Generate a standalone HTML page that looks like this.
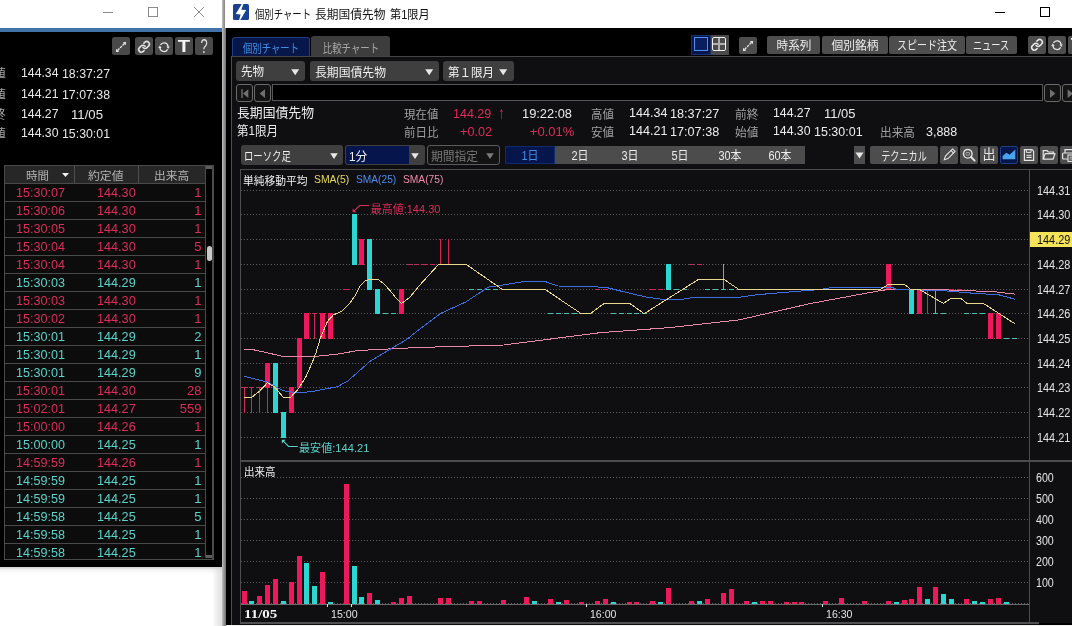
<!DOCTYPE html><html lang="ja"><head><meta charset="utf-8"><title>個別チャート 長期国債先物 第1限月</title><style>
html,body{margin:0;padding:0}
body{width:1072px;height:626px;overflow:hidden;position:relative;background:#fff;font-family:"Liberation Sans","Noto Sans CJK JP",sans-serif;}
#root{position:absolute;left:0;top:0;width:1072px;height:626px;overflow:hidden}
#root>div{position:absolute;box-sizing:border-box}
#root>svg{position:absolute}
.t{white-space:nowrap}
</style></head><body><div id="root">
<div style="left:0px;top:28px;width:222px;height:4px;background:#4273a8;"></div>
<div style="left:0px;top:32px;width:222px;height:535px;background:#000;"></div>
<div style="left:222px;top:0px;width:4px;height:626px;background:linear-gradient(90deg,#c4c4c4 0,#a0a0a0 35%,#707070 100%);"></div>
<div style="left:103px;top:12px;width:10px;height:1px;background:#8a8a8a;"></div>
<div style="left:148px;top:7px;width:10px;height:10px;background:transparent;border:1px solid #8a8a8a;"></div>
<div style="left:112px;top:37.2px;width:18px;height:17.6px;background:#494949;border-radius:2.5px;"></div>
<div style="left:135px;top:37.2px;width:18px;height:17.6px;background:#494949;border-radius:2.5px;"></div>
<div style="left:155px;top:37.2px;width:18px;height:17.6px;background:#494949;border-radius:2.5px;"></div>
<div style="left:175px;top:37.2px;width:18px;height:17.6px;background:#494949;border-radius:2.5px;"></div>
<div style="left:195px;top:37.2px;width:18px;height:17.6px;background:#494949;border-radius:2.5px;"></div>
<div style="left:4px;top:165px;width:210px;height:395px;background:#0c0c0d;border:1px solid #4a4a4a;"></div>
<div style="left:5px;top:166px;width:200px;height:17px;background:#272727;"></div>
<div style="left:205px;top:166px;width:1px;height:392px;background:#4a4a4a;"></div>
<div style="left:74px;top:166px;width:1px;height:17px;background:#505050;"></div>
<div style="left:138px;top:166px;width:1px;height:17px;background:#505050;"></div>
<div style="left:206px;top:166px;width:7px;height:392px;background:#000;"></div>
<div style="left:207px;top:246px;width:5px;height:15px;background:#c8c8c8;border-radius:2.5px;"></div>
<div style="left:206px;top:166px;width:6px;height:3px;background:#5c5c5c;"></div>
<div style="left:206px;top:555px;width:6px;height:3px;background:#5c5c5c;"></div>
<div style="left:212px;top:166px;width:2px;height:393px;background:#4a4a4a;"></div>
<div style="left:5px;top:183px;width:200px;height:1px;background:#4a4a4a;"></div>
<div style="left:5px;top:201px;width:200px;height:1px;background:#4a4a4a;"></div>
<div style="left:5px;top:219px;width:200px;height:1px;background:#4a4a4a;"></div>
<div style="left:5px;top:237px;width:200px;height:1px;background:#4a4a4a;"></div>
<div style="left:5px;top:255px;width:200px;height:1px;background:#4a4a4a;"></div>
<div style="left:5px;top:273px;width:200px;height:1px;background:#4a4a4a;"></div>
<div style="left:5px;top:291px;width:200px;height:1px;background:#4a4a4a;"></div>
<div style="left:5px;top:309px;width:200px;height:1px;background:#4a4a4a;"></div>
<div style="left:5px;top:327px;width:200px;height:1px;background:#4a4a4a;"></div>
<div style="left:5px;top:345px;width:200px;height:1px;background:#4a4a4a;"></div>
<div style="left:5px;top:363px;width:200px;height:1px;background:#4a4a4a;"></div>
<div style="left:5px;top:381px;width:200px;height:1px;background:#4a4a4a;"></div>
<div style="left:5px;top:399px;width:200px;height:1px;background:#4a4a4a;"></div>
<div style="left:5px;top:417px;width:200px;height:1px;background:#4a4a4a;"></div>
<div style="left:5px;top:435px;width:200px;height:1px;background:#4a4a4a;"></div>
<div style="left:5px;top:453px;width:200px;height:1px;background:#4a4a4a;"></div>
<div style="left:5px;top:471px;width:200px;height:1px;background:#4a4a4a;"></div>
<div style="left:5px;top:489px;width:200px;height:1px;background:#4a4a4a;"></div>
<div style="left:5px;top:507px;width:200px;height:1px;background:#4a4a4a;"></div>
<div style="left:5px;top:525px;width:200px;height:1px;background:#4a4a4a;"></div>
<div style="left:5px;top:543px;width:200px;height:1px;background:#4a4a4a;"></div>
<div style="left:0px;top:560px;width:222px;height:7px;background:#000;"></div>
<div style="left:4px;top:559px;width:210px;height:1px;background:#4a4a4a;"></div>
<div style="left:0px;top:567px;width:222px;height:59px;background:linear-gradient(180deg,#d0d0d0 0,#f4f4f4 3px,#fff 7px);"></div>
<div style="left:212px;top:567px;width:10px;height:59px;background:linear-gradient(90deg,rgba(200,200,200,0),rgba(200,200,200,0.6));"></div>
<div style="left:225px;top:0px;width:847px;height:28px;background:#fff;"></div>
<div style="left:226px;top:28px;width:846px;height:598px;background:#000;"></div>
<div style="left:995px;top:12px;width:10px;height:1px;background:#000;"></div>
<div style="left:1040px;top:7px;width:10px;height:10px;background:transparent;border:1px solid #000;"></div>
<div style="left:231px;top:56px;width:841px;height:570px;background:#0f0f11;border-left:1px solid #505050;border-top:1px solid #454545;"></div>
<div style="left:232px;top:37px;width:78px;height:19px;background:#08174a;border:1px solid #1f3f86;border-bottom:none;border-radius:3px 3px 0 0;"></div>
<div style="left:311px;top:36px;width:79px;height:20px;background:#3d3d3d;border-radius:3px 3px 0 0;"></div>
<div style="left:691px;top:35px;width:38px;height:20px;background:#4a4a4a;"></div>
<div style="left:691px;top:35px;width:19.5px;height:20px;background:#06164d;border:1px solid #16306e;"></div>
<div style="left:694px;top:37px;width:14px;height:14px;background:#0a1d5c;border:1.4px solid #4f90f0;"></div>
<div style="left:712px;top:37px;width:14px;height:14px;background:transparent;border:1.4px solid #f0f0f0;border-radius:2px;"></div>
<div style="left:718.3px;top:38px;width:1.4px;height:12px;background:#b0b0b0;"></div>
<div style="left:713px;top:43.3px;width:12px;height:1.4px;background:#b0b0b0;"></div>
<div style="left:739px;top:36.5px;width:18px;height:17.5px;background:#4d4d4d;border-radius:2px;"></div>
<div style="left:767px;top:36px;width:53px;height:18px;background:#4d4d4d;border-radius:2px;"></div>
<div style="left:822px;top:36px;width:65.5px;height:18px;background:#4d4d4d;border-radius:2px;"></div>
<div style="left:889px;top:36px;width:75.5px;height:18px;background:#4d4d4d;border-radius:2px;"></div>
<div style="left:966px;top:36px;width:50.5px;height:18px;background:#4d4d4d;border-radius:2px;"></div>
<div style="left:1028px;top:36px;width:18px;height:18px;background:#4d4d4d;border-radius:2px;"></div>
<div style="left:1048px;top:36px;width:18px;height:18px;background:#4d4d4d;border-radius:2px;"></div>
<div style="left:1068px;top:36px;width:18px;height:18px;background:#4d4d4d;border-radius:2px;"></div>
<div style="left:236px;top:61px;width:69px;height:20px;background:#3f3f3f;border-radius:3px;"></div>
<div style="left:310px;top:61px;width:129px;height:20px;background:#3f3f3f;border-radius:3px;"></div>
<div style="left:443px;top:61px;width:71px;height:20px;background:#3f3f3f;border-radius:3px;"></div>
<div style="left:236px;top:84.3px;width:17px;height:17.3px;background:#131314;border:1px solid #6a6a6a;border-radius:3px;"></div>
<div style="left:254px;top:84.3px;width:17px;height:17.3px;background:#131314;border:1px solid #6a6a6a;border-radius:3px;"></div>
<div style="left:272px;top:84.3px;width:771px;height:17px;background:#000;border:1px solid #555;"></div>
<div style="left:1044px;top:84.3px;width:17px;height:17.3px;background:#131314;border:1px solid #6a6a6a;border-radius:3px;"></div>
<div style="left:1062px;top:84.3px;width:17px;height:17.3px;background:#131314;border:1px solid #6a6a6a;border-radius:3px;"></div>
<div style="left:241px;top:145px;width:102px;height:20px;background:#3f3f3f;border-radius:3px;"></div>
<div style="left:345px;top:145px;width:80px;height:20px;background:#3f3f3f;border-radius:3px;"></div>
<div style="left:346px;top:146px;width:63px;height:18px;background:#06164d;border-radius:2px 0 0 2px;"></div>
<div style="left:427px;top:145px;width:73px;height:20px;background:#131314;border:1px solid #5c5c5c;border-radius:3px;"></div>
<div style="left:505px;top:146px;width:300px;height:18px;background:#4c4c4c;"></div>
<div style="left:505px;top:146px;width:50px;height:18px;background:#06164d;border:1px solid #0f2a70;"></div>
<div style="left:854px;top:146px;width:11px;height:18px;background:#4d4d4d;"></div>
<div style="left:870px;top:146px;width:68px;height:18px;background:#4d4d4d;border-radius:2px;"></div>
<div style="left:940px;top:146px;width:18px;height:18px;background:#4d4d4d;border-radius:2px;"></div>
<div style="left:960px;top:146px;width:18px;height:18px;background:#4d4d4d;border-radius:2px;"></div>
<div style="left:980px;top:146px;width:18px;height:18px;background:#4d4d4d;border-radius:2px;"></div>
<div style="left:1020px;top:146px;width:18px;height:18px;background:#4d4d4d;border-radius:2px;"></div>
<div style="left:1040px;top:146px;width:18px;height:18px;background:#4d4d4d;border-radius:2px;"></div>
<div style="left:1060px;top:146px;width:18px;height:18px;background:#4d4d4d;border-radius:2px;"></div>
<div style="left:1000px;top:146px;width:18px;height:18px;background:#08174a;border:1px solid #1d3e8c;border-radius:2px;"></div>
<svg style="left:193px;top:6px" width="12" height="12" viewBox="0 0 12 12"><path d="M1 1L11 11M11 1L1 11" stroke="#8a8a8a" stroke-width="1" fill="none"/></svg>
<svg style="left:62px;top:172px" width="8" height="6" viewBox="0 0 8 6"><path d="M0 1H7L3.5 5Z" fill="#f0f0f0"/></svg>
<svg style="left:233px;top:4px" width="16" height="16" viewBox="0 0 16 16"><rect width="16" height="16" rx="1.6" fill="#17428f"/><path d="M8.8 0H10.4L8.3 5.7L13.2 5.9L7.3 16H6.1L7.6 10.4L2.7 10Z" fill="#fff"/></svg>
<svg style="left:291.2px;top:68.8px" width="9" height="7" viewBox="0 0 9 7"><path d="M0.2 0.2H8.2L4.2 6.3Z" fill="#e8e8e8"/></svg>
<svg style="left:425.4px;top:68.8px" width="9" height="7" viewBox="0 0 9 7"><path d="M0.2 0.2H8.2L4.2 6.3Z" fill="#e8e8e8"/></svg>
<svg style="left:499.2px;top:68.8px" width="9" height="7" viewBox="0 0 9 7"><path d="M0.2 0.2H8.2L4.2 6.3Z" fill="#e8e8e8"/></svg>
<svg style="left:240px;top:88px" width="11" height="11" viewBox="0 0 11 11"><path d="M2 1.3V9.9" stroke="#707070" stroke-width="1.4"/><path d="M8.3 1.3V9.9L3 5.6Z" fill="#707070"/></svg>
<svg style="left:257px;top:88px" width="11" height="11" viewBox="0 0 11 11"><path d="M8 1.3V9.9L2.6 5.6Z" fill="#707070"/></svg>
<svg style="left:1047px;top:88px" width="11" height="11" viewBox="0 0 11 11"><path d="M3 1.3V9.9L8.4 5.6Z" fill="#707070"/></svg>
<svg style="left:1065px;top:88px" width="11" height="11" viewBox="0 0 11 11"><path d="M2.6 1.3V9.9L8 5.6Z" fill="#707070"/></svg>
<svg style="left:329.6px;top:153.4px" width="9" height="7" viewBox="0 0 9 7"><path d="M0.2 0.2H7.8L4 5.9Z" fill="#e8e8e8"/></svg>
<svg style="left:411.3px;top:153.4px" width="9" height="7" viewBox="0 0 9 7"><path d="M0.2 0.2H7.8L4 5.9Z" fill="#e8e8e8"/></svg>
<svg style="left:485.8px;top:153.4px" width="9" height="7" viewBox="0 0 9 7"><path d="M0.2 0.2H7.8L4 5.9Z" fill="#7a7a7a"/></svg>
<svg style="left:855px;top:152px" width="9" height="7" viewBox="0 0 9 7"><path d="M0.5 0.5H8.5L4.5 6.5Z" fill="#e6e6e6"/></svg>
<svg style="left:0;top:0" width="1072" height="626" viewBox="0 0 1072 626" shape-rendering="crispEdges">
<rect x="240" y="169" width="832" height="1" fill="#4d4d4d"/>
<rect x="240" y="169" width="1" height="455" fill="#4d4d4d"/>
<rect x="1029" y="169" width="1" height="454" fill="#4d4d4d"/>
<rect x="240" y="460" width="832" height="2" fill="#4d4d4d"/>
<rect x="240" y="622" width="799" height="2" fill="#505050"/>
<rect x="1039" y="623" width="33" height="2" fill="#000"/>
<rect x="226" y="625" width="846" height="1" fill="#f2f2f2"/>
<line x1="241" x2="1029" y1="190.5" y2="190.5" stroke="#5e5e5e" stroke-width="1" stroke-dasharray="1 2"/>
<line x1="241" x2="1029" y1="214.5" y2="214.5" stroke="#5e5e5e" stroke-width="1" stroke-dasharray="1 2"/>
<line x1="241" x2="1029" y1="239.5" y2="239.5" stroke="#5e5e5e" stroke-width="1" stroke-dasharray="1 2"/>
<line x1="241" x2="1029" y1="264.5" y2="264.5" stroke="#5e5e5e" stroke-width="1" stroke-dasharray="1 2"/>
<line x1="241" x2="1029" y1="289.5" y2="289.5" stroke="#5e5e5e" stroke-width="1" stroke-dasharray="1 2"/>
<line x1="241" x2="1029" y1="313.5" y2="313.5" stroke="#5e5e5e" stroke-width="1" stroke-dasharray="1 2"/>
<line x1="241" x2="1029" y1="338.5" y2="338.5" stroke="#5e5e5e" stroke-width="1" stroke-dasharray="1 2"/>
<line x1="241" x2="1029" y1="363.5" y2="363.5" stroke="#5e5e5e" stroke-width="1" stroke-dasharray="1 2"/>
<line x1="241" x2="1029" y1="387.5" y2="387.5" stroke="#5e5e5e" stroke-width="1" stroke-dasharray="1 2"/>
<line x1="241" x2="1029" y1="412.5" y2="412.5" stroke="#5e5e5e" stroke-width="1" stroke-dasharray="1 2"/>
<line x1="241" x2="1029" y1="437.5" y2="437.5" stroke="#5e5e5e" stroke-width="1" stroke-dasharray="1 2"/>
<line x1="241" x2="1029" y1="582.5" y2="582.5" stroke="#5e5e5e" stroke-width="1" stroke-dasharray="1 2"/>
<line x1="241" x2="1029" y1="561.5" y2="561.5" stroke="#5e5e5e" stroke-width="1" stroke-dasharray="1 2"/>
<line x1="241" x2="1029" y1="540.5" y2="540.5" stroke="#5e5e5e" stroke-width="1" stroke-dasharray="1 2"/>
<line x1="241" x2="1029" y1="519.5" y2="519.5" stroke="#5e5e5e" stroke-width="1" stroke-dasharray="1 2"/>
<line x1="241" x2="1029" y1="498.5" y2="498.5" stroke="#5e5e5e" stroke-width="1" stroke-dasharray="1 2"/>
<line x1="241" x2="1029" y1="477.5" y2="477.5" stroke="#5e5e5e" stroke-width="1" stroke-dasharray="1 2"/>
<line x1="241" x2="1029" y1="603.5" y2="603.5" stroke="#5e5e5e" stroke-width="1" stroke-dasharray="1 2"/>
<rect x="241" y="604" width="788" height="1" fill="#6a6a6a"/>
<rect x="1030" y="232" width="42" height="15" fill="#f5e45a"/>
<rect x="242" y="591" width="5" height="13" fill="#f0185c"/>
<rect x="249" y="601" width="5" height="3" fill="#2ed6d2"/>
<rect x="257" y="596" width="5" height="8" fill="#f0185c"/>
<rect x="265" y="585" width="5" height="19" fill="#f0185c"/>
<rect x="273" y="579" width="5" height="25" fill="#f0185c"/>
<rect x="281" y="601" width="5" height="3" fill="#2ed6d2"/>
<rect x="289" y="582" width="5" height="22" fill="#f0185c"/>
<rect x="297" y="556" width="5" height="48" fill="#f0185c"/>
<rect x="304" y="563" width="5" height="41" fill="#2ed6d2"/>
<rect x="312" y="586" width="5" height="18" fill="#2ed6d2"/>
<rect x="320" y="572" width="5" height="32" fill="#f0185c"/>
<rect x="328" y="602" width="5" height="2" fill="#2ed6d2"/>
<rect x="344" y="484" width="5" height="120" fill="#f0185c"/>
<rect x="352" y="566" width="5" height="38" fill="#2ed6d2"/>
<rect x="359" y="597" width="5" height="7" fill="#2ed6d2"/>
<rect x="367" y="593" width="5" height="11" fill="#f0185c"/>
<rect x="375" y="600" width="5" height="4" fill="#2ed6d2"/>
<rect x="391" y="602" width="5" height="2" fill="#f0185c"/>
<rect x="399" y="598" width="5" height="6" fill="#f0185c"/>
<rect x="407" y="596" width="5" height="8" fill="#f0185c"/>
<rect x="438" y="598" width="5" height="6" fill="#f0185c"/>
<rect x="446" y="598" width="5" height="6" fill="#f0185c"/>
<rect x="469" y="601" width="5" height="3" fill="#f0185c"/>
<rect x="477" y="601" width="5" height="3" fill="#f0185c"/>
<rect x="501" y="600" width="5" height="4" fill="#f0185c"/>
<rect x="524" y="597" width="5" height="7" fill="#f0185c"/>
<rect x="532" y="601" width="5" height="3" fill="#2ed6d2"/>
<rect x="548" y="599" width="5" height="5" fill="#f0185c"/>
<rect x="556" y="602" width="5" height="2" fill="#2ed6d2"/>
<rect x="564" y="600" width="5" height="4" fill="#f0185c"/>
<rect x="579" y="602" width="5" height="2" fill="#f0185c"/>
<rect x="595" y="601" width="5" height="3" fill="#f0185c"/>
<rect x="603" y="599" width="5" height="5" fill="#f0185c"/>
<rect x="611" y="602" width="5" height="2" fill="#2ed6d2"/>
<rect x="627" y="602" width="5" height="2" fill="#f0185c"/>
<rect x="634" y="602" width="5" height="2" fill="#f0185c"/>
<rect x="650" y="601" width="5" height="3" fill="#f0185c"/>
<rect x="658" y="602" width="5" height="2" fill="#2ed6d2"/>
<rect x="666" y="588" width="5" height="16" fill="#f0185c"/>
<rect x="689" y="601" width="5" height="3" fill="#f0185c"/>
<rect x="697" y="601" width="5" height="3" fill="#2ed6d2"/>
<rect x="705" y="599" width="5" height="5" fill="#f0185c"/>
<rect x="721" y="593" width="5" height="11" fill="#f0185c"/>
<rect x="729" y="589" width="5" height="15" fill="#f0185c"/>
<rect x="744" y="601" width="5" height="3" fill="#f0185c"/>
<rect x="752" y="602" width="5" height="2" fill="#2ed6d2"/>
<rect x="760" y="601" width="5" height="3" fill="#f0185c"/>
<rect x="768" y="601" width="5" height="3" fill="#f0185c"/>
<rect x="784" y="602" width="5" height="2" fill="#f0185c"/>
<rect x="792" y="602" width="5" height="2" fill="#f0185c"/>
<rect x="799" y="602" width="5" height="2" fill="#f0185c"/>
<rect x="823" y="601" width="5" height="3" fill="#f0185c"/>
<rect x="839" y="598" width="5" height="6" fill="#f0185c"/>
<rect x="862" y="601" width="5" height="3" fill="#f0185c"/>
<rect x="886" y="601" width="5" height="3" fill="#f0185c"/>
<rect x="894" y="602" width="5" height="2" fill="#2ed6d2"/>
<rect x="902" y="600" width="5" height="4" fill="#f0185c"/>
<rect x="909" y="599" width="5" height="5" fill="#f0185c"/>
<rect x="917" y="587" width="5" height="17" fill="#f0185c"/>
<rect x="925" y="599" width="5" height="5" fill="#2ed6d2"/>
<rect x="933" y="587" width="5" height="17" fill="#f0185c"/>
<rect x="941" y="594" width="5" height="10" fill="#2ed6d2"/>
<rect x="949" y="599" width="5" height="5" fill="#2ed6d2"/>
<rect x="964" y="599" width="5" height="5" fill="#f0185c"/>
<rect x="972" y="601" width="5" height="3" fill="#2ed6d2"/>
<rect x="980" y="602" width="5" height="2" fill="#2ed6d2"/>
<rect x="988" y="599" width="5" height="5" fill="#f0185c"/>
<rect x="996" y="598" width="5" height="6" fill="#f0185c"/>
<rect x="1004" y="602" width="5" height="2" fill="#2ed6d2"/>
<rect x="327" y="604" width="1" height="3" fill="#e0e0e0"/>
<rect x="351" y="604" width="1" height="3" fill="#e0e0e0"/>
<rect x="586" y="604" width="1" height="3" fill="#e0e0e0"/>
<rect x="822" y="604" width="1" height="3" fill="#e0e0e0"/>
<rect x="242" y="387" width="5" height="1" fill="#c8285a"/>
<rect x="244" y="387" width="1" height="26" fill="#d02858"/>
<rect x="249" y="387" width="5" height="1" fill="#c8285a"/>
<rect x="251" y="387" width="1" height="26" fill="#d02858"/>
<rect x="257" y="387" width="5" height="1" fill="#c8285a"/>
<rect x="259" y="387" width="1" height="26" fill="#d02858"/>
<rect x="267" y="387" width="1" height="26" fill="#d02858"/>
<rect x="265" y="363" width="5" height="25" fill="#f0185c"/>
<rect x="273" y="363" width="5" height="50" fill="#2ed6d2"/>
<rect x="281" y="412" width="5" height="26" fill="#2ed6d2"/>
<rect x="289" y="387" width="5" height="26" fill="#f0185c"/>
<rect x="297" y="338" width="5" height="50" fill="#f0185c"/>
<rect x="304" y="313" width="5" height="26" fill="#f0185c"/>
<rect x="312" y="313" width="5" height="1" fill="#c8285a"/>
<rect x="314" y="313" width="1" height="26" fill="#d02858"/>
<rect x="320" y="313" width="5" height="26" fill="#f0185c"/>
<rect x="328" y="313" width="5" height="26" fill="#f0185c"/>
<rect x="344" y="289" width="5" height="1" fill="#c8285a"/>
<rect x="352" y="214" width="5" height="51" fill="#2ed6d2"/>
<rect x="359" y="239" width="5" height="26" fill="#f0185c"/>
<rect x="367" y="239" width="5" height="51" fill="#2ed6d2"/>
<rect x="375" y="289" width="5" height="25" fill="#2ed6d2"/>
<rect x="383" y="313" width="5" height="1" fill="#48c0b8"/>
<rect x="391" y="313" width="5" height="1" fill="#48c0b8"/>
<rect x="399" y="289" width="5" height="25" fill="#f0185c"/>
<rect x="407" y="264" width="5" height="1" fill="#c8285a"/>
<rect x="414" y="264" width="5" height="1" fill="#c8285a"/>
<rect x="422" y="264" width="5" height="1" fill="#c8285a"/>
<rect x="430" y="264" width="5" height="1" fill="#c8285a"/>
<rect x="438" y="264" width="5" height="1" fill="#c8285a"/>
<rect x="446" y="264" width="5" height="1" fill="#c8285a"/>
<rect x="454" y="264" width="5" height="1" fill="#c8285a"/>
<rect x="462" y="264" width="5" height="1" fill="#c8285a"/>
<rect x="440" y="239" width="1" height="26" fill="#d02858"/>
<rect x="448" y="239" width="1" height="26" fill="#d02858"/>
<rect x="469" y="289" width="5" height="1" fill="#48c0b8"/>
<rect x="477" y="289" width="5" height="1" fill="#48c0b8"/>
<rect x="485" y="289" width="5" height="1" fill="#48c0b8"/>
<rect x="493" y="289" width="5" height="1" fill="#48c0b8"/>
<rect x="501" y="289" width="5" height="1" fill="#48c0b8"/>
<rect x="509" y="289" width="5" height="1" fill="#48c0b8"/>
<rect x="517" y="289" width="5" height="1" fill="#48c0b8"/>
<rect x="524" y="289" width="5" height="1" fill="#48c0b8"/>
<rect x="532" y="289" width="5" height="1" fill="#48c0b8"/>
<rect x="540" y="289" width="5" height="1" fill="#48c0b8"/>
<rect x="548" y="313" width="5" height="1" fill="#48c0b8"/>
<rect x="556" y="313" width="5" height="1" fill="#48c0b8"/>
<rect x="564" y="313" width="5" height="1" fill="#48c0b8"/>
<rect x="572" y="313" width="5" height="1" fill="#48c0b8"/>
<rect x="579" y="313" width="5" height="1" fill="#48c0b8"/>
<rect x="587" y="313" width="5" height="1" fill="#48c0b8"/>
<rect x="595" y="289" width="5" height="1" fill="#c8285a"/>
<rect x="603" y="289" width="5" height="1" fill="#c8285a"/>
<rect x="611" y="313" width="5" height="1" fill="#48c0b8"/>
<rect x="619" y="313" width="5" height="1" fill="#48c0b8"/>
<rect x="627" y="313" width="5" height="1" fill="#48c0b8"/>
<rect x="634" y="313" width="5" height="1" fill="#48c0b8"/>
<rect x="642" y="313" width="5" height="1" fill="#48c0b8"/>
<rect x="650" y="289" width="5" height="1" fill="#c8285a"/>
<rect x="658" y="289" width="5" height="1" fill="#c8285a"/>
<rect x="666" y="264" width="5" height="26" fill="#2ed6d2"/>
<rect x="674" y="289" width="5" height="1" fill="#48c0b8"/>
<rect x="682" y="289" width="5" height="1" fill="#48c0b8"/>
<rect x="689" y="264" width="5" height="1" fill="#c8285a"/>
<rect x="697" y="264" width="5" height="1" fill="#c8285a"/>
<rect x="705" y="289" width="5" height="1" fill="#48c0b8"/>
<rect x="713" y="289" width="5" height="1" fill="#48c0b8"/>
<rect x="721" y="289" width="5" height="1" fill="#48c0b8"/>
<rect x="729" y="289" width="5" height="1" fill="#48c0b8"/>
<rect x="737" y="289" width="5" height="1" fill="#48c0b8"/>
<rect x="723" y="264" width="1" height="26" fill="#3fc8c2"/>
<rect x="886" y="264" width="5" height="26" fill="#f0185c"/>
<rect x="909" y="289" width="5" height="25" fill="#2ed6d2"/>
<rect x="917" y="289" width="5" height="25" fill="#f0185c"/>
<rect x="927" y="289" width="1" height="25" fill="#d02858"/>
<rect x="935" y="289" width="1" height="25" fill="#3fc8c2"/>
<rect x="933" y="313" width="5" height="1" fill="#48c0b8"/>
<rect x="941" y="313" width="5" height="1" fill="#48c0b8"/>
<rect x="949" y="289" width="5" height="1" fill="#c8285a"/>
<rect x="957" y="289" width="5" height="1" fill="#c8285a"/>
<rect x="964" y="313" width="5" height="1" fill="#48c0b8"/>
<rect x="972" y="313" width="5" height="1" fill="#48c0b8"/>
<rect x="980" y="313" width="5" height="1" fill="#48c0b8"/>
<rect x="988" y="313" width="5" height="26" fill="#f0185c"/>
<rect x="996" y="313" width="5" height="26" fill="#f0185c"/>
<rect x="1004" y="338" width="5" height="1" fill="#48c0b8"/>
<rect x="1012" y="338" width="5" height="1" fill="#48c0b8"/>
<polyline fill="none" stroke="#e88aa6" stroke-width="1" points="244.4,349.2 250.8,349.2 267.4,352.8 282.7,356.4 314.7,356.4 337.7,354.1 358.0,350.5 418.0,347.5 503.6,345.0 600.0,332.7 669.8,327.6 739.5,319.8 810.0,303.6 881.8,290.3 892.0,289.2 943.4,289.8 994.7,291.7 1015.2,294.2"/>
<polyline fill="none" stroke="#3d6fe0" stroke-width="1" points="244.4,376.4 267.4,382.2 282.7,390.5 294.2,392.7 299.3,393.0 314.7,391.1 337.7,386.6 347.9,380.9 358.0,372.0 369.9,361.4 393.8,347.0 406.0,340.0 420.5,328.5 441.0,313.2 465.7,302.0 488.2,287.2 502.6,285.0 527.2,281.0 543.6,281.0 558.0,286.0 605.2,287.2 620.5,291.0 645.0,296.8 661.6,299.3 682.0,299.3 694.4,297.2 739.5,297.2 756.0,294.8 805.0,290.7 820.0,289.5 834.6,287.2 892.0,287.2 896.0,289.2 943.4,290.7 974.0,293.3 998.8,294.8 1015.2,299.3"/>
<polyline fill="none" stroke="#e8d98e" stroke-width="1" points="244.4,397.5 251.4,397.5 259.7,391.1 267.4,382.8 275.1,387.3 283.4,397.5 290.4,397.5 298.1,389.2 305.7,377.1 311.5,364.3 316.0,352.8 320.4,338.0 327.5,321.3 333.2,315.0 340.9,311.8 349.2,304.1 355.0,295.8 360.1,285.6 365.2,281.1 369.6,279.2 378.0,279.2 383.7,283.6 389.5,290.0 395.8,297.7 401.6,303.5 409.9,297.1 420.0,284.9 439.0,264.0 465.7,264.0 502.0,289.2 544.7,289.2 580.6,313.2 590.8,313.2 604.2,303.4 629.8,303.4 644.1,313.7 698.5,279.4 724.0,279.4 738.5,289.2 880.8,289.2 888.0,284.5 904.4,284.5 910.6,289.2 919.0,289.2 943.4,303.4 950.6,298.5 960.8,298.5 967.0,303.4 983.4,303.4 1015.2,324.0"/>
<g shape-rendering="auto"><path d="M369.2 205.5H359.6L353.6 211.4" stroke="#de2c5b" stroke-width="1.1" fill="none"/><path d="M352.6 212.2V208.4L356.4 212.2Z" fill="#de2c5b"/>
<path d="M297.8 446.5H288.6L282.8 440.7" stroke="#5ad4cb" stroke-width="1.1" fill="none"/><path d="M281.8 439.8H285.6L281.8 443.6Z" fill="#5ad4cb"/></g>
</svg>
<svg style="left:112px;top:37.5px" width="18" height="18" viewBox="0 0 18 18"><path d="M5.6 12.4L12.4 5.6" stroke="#e6e6e6" stroke-width="1.4" stroke-dasharray="2.6 1 2.4 1 2.6" fill="none"/><path d="M4 14V10.8L7.2 14ZM14 4V7.2L10.8 4Z" fill="#e6e6e6"/></svg>
<svg style="left:135px;top:37.5px" width="18" height="18" viewBox="0 0 18 18"><g transform="translate(2.6 2.4) scale(0.535)" fill="none" stroke="#e6e6e6" stroke-width="2.9" stroke-linecap="round" stroke-linejoin="round"><path d="M10 13a5 5 0 0 0 7.54.54l3-3a5 5 0 0 0-7.07-7.07l-1.72 1.71"/><path d="M14 11a5 5 0 0 0-7.54-.54l-3 3a5 5 0 0 0 7.07 7.07l1.71-1.71"/></g></svg>
<svg style="left:155px;top:37.5px" width="18" height="18" viewBox="0 0 18 18"><g fill="none" stroke="#e6e6e6" stroke-width="1.25"><path d="M5.4 7A4.1 4.1 0 0 1 13.1 8.6"/><path d="M12.6 11.4A4.1 4.1 0 0 1 4.9 9.8"/></g><path d="M11.4 8.4H14.8L13.2 11Z M3.2 10H6.6L4.8 7.4Z" fill="#e6e6e6"/></svg>
<svg style="left:739px;top:36.5px" width="18" height="18" viewBox="0 0 18 18"><path d="M5.6 12.4L12.4 5.6" stroke="#e6e6e6" stroke-width="1.4" stroke-dasharray="2.6 1 2.4 1 2.6" fill="none"/><path d="M4 14V10.8L7.2 14ZM14 4V7.2L10.8 4Z" fill="#e6e6e6"/></svg>
<svg style="left:1028px;top:36px" width="18" height="18" viewBox="0 0 18 18"><g transform="translate(2.6 2.4) scale(0.535)" fill="none" stroke="#e6e6e6" stroke-width="2.9" stroke-linecap="round" stroke-linejoin="round"><path d="M10 13a5 5 0 0 0 7.54.54l3-3a5 5 0 0 0-7.07-7.07l-1.72 1.71"/><path d="M14 11a5 5 0 0 0-7.54-.54l-3 3a5 5 0 0 0 7.07 7.07l1.71-1.71"/></g></svg>
<svg style="left:1048px;top:36px" width="18" height="18" viewBox="0 0 18 18"><g fill="none" stroke="#e6e6e6" stroke-width="1.25"><path d="M5.4 7A4.1 4.1 0 0 1 13.1 8.6"/><path d="M12.6 11.4A4.1 4.1 0 0 1 4.9 9.8"/></g><path d="M11.4 8.4H14.8L13.2 11Z M3.2 10H6.6L4.8 7.4Z" fill="#e6e6e6"/></svg>
<svg style="left:940px;top:146px" width="18" height="18" viewBox="0 0 18 18"><g transform="rotate(45 9 9)" fill="none" stroke="#e6e6e6" stroke-width="1.1"><path d="M7.2 2.2H10.8V12.2L9 15.6L7.2 12.2Z"/><path d="M7.2 4.4H10.8"/></g></svg>
<svg style="left:960px;top:146px" width="18" height="18" viewBox="0 0 18 18"><circle cx="7.8" cy="7.8" r="4.3" fill="none" stroke="#e6e6e6" stroke-width="1.4"/><path d="M11 11L14.6 14.6" stroke="#e6e6e6" stroke-width="2" stroke-linecap="round"/><rect x="6" y="6.5" width="3.6" height="2.6" rx="0.6" fill="none" stroke="#bdbdbd" stroke-width="0.8"/></svg>
<svg style="left:1000px;top:146px" width="18" height="18" viewBox="0 0 18 18"><path d="M2.6 13.2V10L6.4 6.8L9.6 8.7L15.3 3.6V13.2Z" fill="#4aa3f0"/></svg>
<svg style="left:1020px;top:146px" width="18" height="18" viewBox="0 0 18 18"><path d="M4.4 3.6H12L13.6 5.2V14.4H4.4Z" fill="none" stroke="#e6e6e6" stroke-width="1.2"/><path d="M6.4 3.8V6.4H11V3.8" fill="none" stroke="#e6e6e6" stroke-width="1"/><path d="M6.4 9.2H11.6M6.4 11.4H11.6" stroke="#e6e6e6" stroke-width="1.1"/></svg>
<svg style="left:1040px;top:146px" width="18" height="18" viewBox="0 0 18 18"><path d="M3.2 13.2V4.6H7L8.2 6H13.4V7.6" fill="none" stroke="#e6e6e6" stroke-width="1.2"/><path d="M3.2 13.2L5.2 7.6H15L13 13.2Z" fill="none" stroke="#e6e6e6" stroke-width="1.2" stroke-linejoin="round"/></svg>
<svg style="left:1060px;top:146px" width="18" height="18" viewBox="0 0 18 18"><path d="M5 7V3.6H13V7" fill="none" stroke="#e6e6e6" stroke-width="1.2"/><rect x="2.6" y="7" width="13" height="6" rx="1" fill="none" stroke="#e6e6e6" stroke-width="1.2"/><rect x="8" y="9" width="6" height="6.4" fill="#4d4d4d" stroke="#e6e6e6" stroke-width="1.1"/><path d="M9.6 11.2H12.4M9.6 13H12.4" stroke="#e6e6e6" stroke-width="0.8"/></svg>
<div class="t" id="t0i" style="top:64.60px;font-size:12px;line-height:18px;color:#a8a8a8;right:1066.2px;transform-origin:100% 50%;">高値</div>
<div class="t" id="t1i" style="top:63.00px;font-size:13px;line-height:20px;color:#e8e8e8;left:20.6px;transform-origin:0 50%;transform:scaleX(0.9430);">144.34</div>
<div class="t" id="t2i" style="top:64.00px;font-size:13px;line-height:20px;color:#e8e8e8;left:62px;transform-origin:0 50%;transform:scaleX(0.9484);">18:37:27</div>
<div class="t" id="t3i" style="top:85.60px;font-size:12px;line-height:18px;color:#a8a8a8;right:1066.2px;transform-origin:100% 50%;">安値</div>
<div class="t" id="t4i" style="top:84.00px;font-size:13px;line-height:20px;color:#e8e8e8;left:20.6px;transform-origin:0 50%;transform:scaleX(0.9430);">144.21</div>
<div class="t" id="t5i" style="top:85.00px;font-size:13px;line-height:20px;color:#e8e8e8;left:62px;transform-origin:0 50%;transform:scaleX(0.9484);">17:07:38</div>
<div class="t" id="t6i" style="top:105.60px;font-size:12px;line-height:18px;color:#a8a8a8;right:1066.2px;transform-origin:100% 50%;">前終</div>
<div class="t" id="t7i" style="top:104.00px;font-size:13px;line-height:20px;color:#e8e8e8;left:20.6px;transform-origin:0 50%;transform:scaleX(0.9430);">144.27</div>
<div class="t" id="t8i" style="top:105.00px;font-size:13px;line-height:20px;color:#e8e8e8;left:70.7px;transform-origin:0 50%;transform:scaleX(1.0134);">11/05</div>
<div class="t" id="t9i" style="top:124.60px;font-size:12px;line-height:18px;color:#a8a8a8;right:1066.2px;transform-origin:100% 50%;">始値</div>
<div class="t" id="t10i" style="top:123.00px;font-size:13px;line-height:20px;color:#e8e8e8;left:20.6px;transform-origin:0 50%;transform:scaleX(0.9430);">144.30</div>
<div class="t" id="t11i" style="top:124.00px;font-size:13px;line-height:20px;color:#e8e8e8;left:62px;transform-origin:0 50%;transform:scaleX(0.9484);">15:30:01</div>
<div class="t" id="t12i" style="top:168.00px;font-size:11px;line-height:16px;color:#b4b4b4;left:25.8px;transform-origin:0 50%;transform:scaleX(1.0455);">時間</div>
<div class="t" id="t13i" style="top:168.00px;font-size:11px;line-height:16px;color:#b4b4b4;left:88.3px;transform-origin:0 50%;transform:scaleX(1.0788);">約定値</div>
<div class="t" id="t14i" style="top:168.00px;font-size:11px;line-height:16px;color:#b4b4b4;left:153.8px;transform-origin:0 50%;transform:scaleX(1.0667);">出来高</div>
<div class="t" id="t15i" style="top:182.70px;font-size:13px;line-height:20px;color:#de2c5b;left:16px;transform-origin:0 50%;transform:scaleX(0.9682);">15:30:07</div>
<div class="t" id="t16i" style="top:182.70px;font-size:13px;line-height:20px;color:#de2c5b;left:97.3px;transform-origin:0 50%;transform:scaleX(0.9732);">144.30</div>
<div class="t" id="t17i" style="top:182.70px;font-size:13px;line-height:20px;color:#de2c5b;right:870.5px;transform-origin:100% 50%;">1</div>
<div class="t" id="t18i" style="top:200.70px;font-size:13px;line-height:20px;color:#de2c5b;left:16px;transform-origin:0 50%;transform:scaleX(0.9682);">15:30:06</div>
<div class="t" id="t19i" style="top:200.70px;font-size:13px;line-height:20px;color:#de2c5b;left:97.3px;transform-origin:0 50%;transform:scaleX(0.9732);">144.30</div>
<div class="t" id="t20i" style="top:200.70px;font-size:13px;line-height:20px;color:#de2c5b;right:870.5px;transform-origin:100% 50%;">1</div>
<div class="t" id="t21i" style="top:218.70px;font-size:13px;line-height:20px;color:#de2c5b;left:16px;transform-origin:0 50%;transform:scaleX(0.9682);">15:30:05</div>
<div class="t" id="t22i" style="top:218.70px;font-size:13px;line-height:20px;color:#de2c5b;left:97.3px;transform-origin:0 50%;transform:scaleX(0.9732);">144.30</div>
<div class="t" id="t23i" style="top:218.70px;font-size:13px;line-height:20px;color:#de2c5b;right:870.5px;transform-origin:100% 50%;">1</div>
<div class="t" id="t24i" style="top:236.70px;font-size:13px;line-height:20px;color:#de2c5b;left:16px;transform-origin:0 50%;transform:scaleX(0.9682);">15:30:04</div>
<div class="t" id="t25i" style="top:236.70px;font-size:13px;line-height:20px;color:#de2c5b;left:97.3px;transform-origin:0 50%;transform:scaleX(0.9732);">144.30</div>
<div class="t" id="t26i" style="top:236.70px;font-size:13px;line-height:20px;color:#de2c5b;right:870.5px;transform-origin:100% 50%;">5</div>
<div class="t" id="t27i" style="top:254.70px;font-size:13px;line-height:20px;color:#de2c5b;left:16px;transform-origin:0 50%;transform:scaleX(0.9682);">15:30:04</div>
<div class="t" id="t28i" style="top:254.70px;font-size:13px;line-height:20px;color:#de2c5b;left:97.3px;transform-origin:0 50%;transform:scaleX(0.9732);">144.30</div>
<div class="t" id="t29i" style="top:254.70px;font-size:13px;line-height:20px;color:#de2c5b;right:870.5px;transform-origin:100% 50%;">1</div>
<div class="t" id="t30i" style="top:272.70px;font-size:13px;line-height:20px;color:#5ad4cb;left:16px;transform-origin:0 50%;transform:scaleX(0.9682);">15:30:03</div>
<div class="t" id="t31i" style="top:272.70px;font-size:13px;line-height:20px;color:#5ad4cb;left:97.3px;transform-origin:0 50%;transform:scaleX(0.9732);">144.29</div>
<div class="t" id="t32i" style="top:272.70px;font-size:13px;line-height:20px;color:#5ad4cb;right:870.5px;transform-origin:100% 50%;">1</div>
<div class="t" id="t33i" style="top:290.70px;font-size:13px;line-height:20px;color:#de2c5b;left:16px;transform-origin:0 50%;transform:scaleX(0.9682);">15:30:03</div>
<div class="t" id="t34i" style="top:290.70px;font-size:13px;line-height:20px;color:#de2c5b;left:97.3px;transform-origin:0 50%;transform:scaleX(0.9732);">144.30</div>
<div class="t" id="t35i" style="top:290.70px;font-size:13px;line-height:20px;color:#de2c5b;right:870.5px;transform-origin:100% 50%;">1</div>
<div class="t" id="t36i" style="top:308.70px;font-size:13px;line-height:20px;color:#de2c5b;left:16px;transform-origin:0 50%;transform:scaleX(0.9682);">15:30:02</div>
<div class="t" id="t37i" style="top:308.70px;font-size:13px;line-height:20px;color:#de2c5b;left:97.3px;transform-origin:0 50%;transform:scaleX(0.9732);">144.30</div>
<div class="t" id="t38i" style="top:308.70px;font-size:13px;line-height:20px;color:#de2c5b;right:870.5px;transform-origin:100% 50%;">1</div>
<div class="t" id="t39i" style="top:326.70px;font-size:13px;line-height:20px;color:#5ad4cb;left:16px;transform-origin:0 50%;transform:scaleX(0.9682);">15:30:01</div>
<div class="t" id="t40i" style="top:326.70px;font-size:13px;line-height:20px;color:#5ad4cb;left:97.3px;transform-origin:0 50%;transform:scaleX(0.9732);">144.29</div>
<div class="t" id="t41i" style="top:326.70px;font-size:13px;line-height:20px;color:#5ad4cb;right:870.5px;transform-origin:100% 50%;">2</div>
<div class="t" id="t42i" style="top:344.70px;font-size:13px;line-height:20px;color:#5ad4cb;left:16px;transform-origin:0 50%;transform:scaleX(0.9682);">15:30:01</div>
<div class="t" id="t43i" style="top:344.70px;font-size:13px;line-height:20px;color:#5ad4cb;left:97.3px;transform-origin:0 50%;transform:scaleX(0.9732);">144.29</div>
<div class="t" id="t44i" style="top:344.70px;font-size:13px;line-height:20px;color:#5ad4cb;right:870.5px;transform-origin:100% 50%;">1</div>
<div class="t" id="t45i" style="top:362.70px;font-size:13px;line-height:20px;color:#5ad4cb;left:16px;transform-origin:0 50%;transform:scaleX(0.9682);">15:30:01</div>
<div class="t" id="t46i" style="top:362.70px;font-size:13px;line-height:20px;color:#5ad4cb;left:97.3px;transform-origin:0 50%;transform:scaleX(0.9732);">144.29</div>
<div class="t" id="t47i" style="top:362.70px;font-size:13px;line-height:20px;color:#5ad4cb;right:870.5px;transform-origin:100% 50%;">9</div>
<div class="t" id="t48i" style="top:380.70px;font-size:13px;line-height:20px;color:#de2c5b;left:16px;transform-origin:0 50%;transform:scaleX(0.9682);">15:30:01</div>
<div class="t" id="t49i" style="top:380.70px;font-size:13px;line-height:20px;color:#de2c5b;left:97.3px;transform-origin:0 50%;transform:scaleX(0.9732);">144.30</div>
<div class="t" id="t50i" style="top:380.70px;font-size:13px;line-height:20px;color:#de2c5b;right:870.5px;transform-origin:100% 50%;">28</div>
<div class="t" id="t51i" style="top:398.70px;font-size:13px;line-height:20px;color:#de2c5b;left:16px;transform-origin:0 50%;transform:scaleX(0.9682);">15:02:01</div>
<div class="t" id="t52i" style="top:398.70px;font-size:13px;line-height:20px;color:#de2c5b;left:97.3px;transform-origin:0 50%;transform:scaleX(0.9732);">144.27</div>
<div class="t" id="t53i" style="top:398.70px;font-size:13px;line-height:20px;color:#de2c5b;right:870.5px;transform-origin:100% 50%;">559</div>
<div class="t" id="t54i" style="top:416.70px;font-size:13px;line-height:20px;color:#de2c5b;left:16px;transform-origin:0 50%;transform:scaleX(0.9682);">15:00:00</div>
<div class="t" id="t55i" style="top:416.70px;font-size:13px;line-height:20px;color:#de2c5b;left:97.3px;transform-origin:0 50%;transform:scaleX(0.9732);">144.26</div>
<div class="t" id="t56i" style="top:416.70px;font-size:13px;line-height:20px;color:#de2c5b;right:870.5px;transform-origin:100% 50%;">1</div>
<div class="t" id="t57i" style="top:434.70px;font-size:13px;line-height:20px;color:#5ad4cb;left:16px;transform-origin:0 50%;transform:scaleX(0.9682);">15:00:00</div>
<div class="t" id="t58i" style="top:434.70px;font-size:13px;line-height:20px;color:#5ad4cb;left:97.3px;transform-origin:0 50%;transform:scaleX(0.9732);">144.25</div>
<div class="t" id="t59i" style="top:434.70px;font-size:13px;line-height:20px;color:#5ad4cb;right:870.5px;transform-origin:100% 50%;">1</div>
<div class="t" id="t60i" style="top:452.70px;font-size:13px;line-height:20px;color:#de2c5b;left:16px;transform-origin:0 50%;transform:scaleX(0.9682);">14:59:59</div>
<div class="t" id="t61i" style="top:452.70px;font-size:13px;line-height:20px;color:#de2c5b;left:97.3px;transform-origin:0 50%;transform:scaleX(0.9732);">144.26</div>
<div class="t" id="t62i" style="top:452.70px;font-size:13px;line-height:20px;color:#de2c5b;right:870.5px;transform-origin:100% 50%;">1</div>
<div class="t" id="t63i" style="top:470.70px;font-size:13px;line-height:20px;color:#5ad4cb;left:16px;transform-origin:0 50%;transform:scaleX(0.9682);">14:59:59</div>
<div class="t" id="t64i" style="top:470.70px;font-size:13px;line-height:20px;color:#5ad4cb;left:97.3px;transform-origin:0 50%;transform:scaleX(0.9732);">144.25</div>
<div class="t" id="t65i" style="top:470.70px;font-size:13px;line-height:20px;color:#5ad4cb;right:870.5px;transform-origin:100% 50%;">1</div>
<div class="t" id="t66i" style="top:488.70px;font-size:13px;line-height:20px;color:#5ad4cb;left:16px;transform-origin:0 50%;transform:scaleX(0.9682);">14:59:59</div>
<div class="t" id="t67i" style="top:488.70px;font-size:13px;line-height:20px;color:#5ad4cb;left:97.3px;transform-origin:0 50%;transform:scaleX(0.9732);">144.25</div>
<div class="t" id="t68i" style="top:488.70px;font-size:13px;line-height:20px;color:#5ad4cb;right:870.5px;transform-origin:100% 50%;">1</div>
<div class="t" id="t69i" style="top:506.70px;font-size:13px;line-height:20px;color:#5ad4cb;left:16px;transform-origin:0 50%;transform:scaleX(0.9682);">14:59:58</div>
<div class="t" id="t70i" style="top:506.70px;font-size:13px;line-height:20px;color:#5ad4cb;left:97.3px;transform-origin:0 50%;transform:scaleX(0.9732);">144.25</div>
<div class="t" id="t71i" style="top:506.70px;font-size:13px;line-height:20px;color:#5ad4cb;right:870.5px;transform-origin:100% 50%;">5</div>
<div class="t" id="t72i" style="top:524.70px;font-size:13px;line-height:20px;color:#5ad4cb;left:16px;transform-origin:0 50%;transform:scaleX(0.9682);">14:59:58</div>
<div class="t" id="t73i" style="top:524.70px;font-size:13px;line-height:20px;color:#5ad4cb;left:97.3px;transform-origin:0 50%;transform:scaleX(0.9732);">144.25</div>
<div class="t" id="t74i" style="top:524.70px;font-size:13px;line-height:20px;color:#5ad4cb;right:870.5px;transform-origin:100% 50%;">1</div>
<div class="t" id="t75i" style="top:542.70px;font-size:13px;line-height:20px;color:#5ad4cb;left:16px;transform-origin:0 50%;transform:scaleX(0.9682);">14:59:58</div>
<div class="t" id="t76i" style="top:542.70px;font-size:13px;line-height:20px;color:#5ad4cb;left:97.3px;transform-origin:0 50%;transform:scaleX(0.9732);">144.25</div>
<div class="t" id="t77i" style="top:542.70px;font-size:13px;line-height:20px;color:#5ad4cb;right:870.5px;transform-origin:100% 50%;">1</div>
<div class="t" id="t78i" style="top:5.50px;font-size:12px;line-height:18px;color:#111;left:254.7px;transform-origin:0 50%;transform:scaleX(0.7790);">個別チャート</div>
<div class="t" id="t79i" style="top:5.50px;font-size:12px;line-height:18px;color:#111;left:314.7px;transform-origin:0 50%;transform:scaleX(0.9776);">長期国債先物</div>
<div class="t" id="t80i" style="top:5.50px;font-size:12px;line-height:18px;color:#111;left:389.6px;transform-origin:0 50%;transform:scaleX(0.9277);">第1限月</div>
<div class="t" style="top:39.50px;font-size:12px;line-height:18px;color:#3f8fe6;left:70.80000000000001px;width:400px;text-align:center;transform-origin:50% 50%;transform:scaleX(0.7790);"><span id="t81i">個別チャート</span></div>
<div class="t" style="top:39.50px;font-size:12px;line-height:18px;color:#a8a8a8;left:150.60000000000002px;width:400px;text-align:center;transform-origin:50% 50%;transform:scaleX(0.7859);"><span id="t82i">比較チャート</span></div>
<div class="t" style="top:37.40px;font-size:12px;line-height:18px;color:#ececec;left:593.5px;width:400px;text-align:center;transform-origin:50% 50%;transform:scaleX(0.9718);"><span id="t83i">時系列</span></div>
<div class="t" style="top:37.40px;font-size:12px;line-height:18px;color:#ececec;left:654.75px;width:400px;text-align:center;transform-origin:50% 50%;transform:scaleX(0.9788);"><span id="t84i">個別銘柄</span></div>
<div class="t" style="top:37.40px;font-size:12px;line-height:18px;color:#ececec;left:726.75px;width:400px;text-align:center;transform-origin:50% 50%;transform:scaleX(0.8332);"><span id="t85i">スピード注文</span></div>
<div class="t" style="top:37.40px;font-size:12px;line-height:18px;color:#ececec;left:791.25px;width:400px;text-align:center;transform-origin:50% 50%;transform:scaleX(0.7594);"><span id="t86i">ニュース</span></div>
<div class="t" id="t87i" style="top:63.40px;font-size:12px;line-height:18px;color:#f0f0f0;left:240.5px;transform-origin:0 50%;transform:scaleX(0.9660);">先物</div>
<div class="t" id="t88i" style="top:63.60px;font-size:12px;line-height:18px;color:#f0f0f0;left:314.5px;transform-origin:0 50%;transform:scaleX(0.9859);">長期国債先物</div>
<div class="t" id="t89i" style="top:63.60px;font-size:12px;line-height:18px;color:#f0f0f0;left:447.5px;transform-origin:0 50%;transform:scaleX(0.9580);">第１限月</div>
<div class="t" id="t90i" style="top:103.40px;font-size:13px;line-height:20px;color:#ececec;left:237px;transform-origin:0 50%;transform:scaleX(0.9870);">長期国債先物</div>
<div class="t" id="t91i" style="top:121.20px;font-size:13px;line-height:20px;color:#ececec;left:237px;transform-origin:0 50%;transform:scaleX(0.8868);">第1限月</div>
<div class="t" id="t92i" style="top:105.50px;font-size:12px;line-height:18px;color:#a0a0a0;left:403.8px;transform-origin:0 50%;transform:scaleX(0.9579);">現在値</div>
<div class="t" id="t93i" style="top:123.80px;font-size:12px;line-height:18px;color:#a0a0a0;left:403.8px;transform-origin:0 50%;transform:scaleX(0.9579);">前日比</div>
<div class="t" id="t94i" style="top:104.00px;font-size:13px;line-height:20px;color:#de2c5b;left:453.4px;transform-origin:0 50%;transform:scaleX(0.9606);">144.29</div>
<div class="t" id="t95i" style="top:101.20px;font-size:17px;line-height:26px;color:#de2c5b;left:497.6px;transform-origin:0 50%;transform:scaleX(0.7765);">↑</div>
<div class="t" id="t96i" style="top:122.30px;font-size:13px;line-height:20px;color:#de2c5b;left:460px;transform-origin:0 50%;transform:scaleX(0.9725);">+0.02</div>
<div class="t" id="t97i" style="top:104.00px;font-size:13px;line-height:20px;color:#ececec;left:522px;transform-origin:0 50%;transform:scaleX(0.9880);">19:22:08</div>
<div class="t" id="t98i" style="top:122.30px;font-size:13px;line-height:20px;color:#de2c5b;left:529.8px;transform-origin:0 50%;">+0.01%</div>
<div class="t" id="t99i" style="top:105.70px;font-size:12px;line-height:18px;color:#a0a0a0;left:591.3px;transform-origin:0 50%;transform:scaleX(0.9577);">高値</div>
<div class="t" id="t100i" style="top:124.00px;font-size:12px;line-height:18px;color:#a0a0a0;left:591.3px;transform-origin:0 50%;transform:scaleX(0.9577);">安値</div>
<div class="t" id="t101i" style="top:103.00px;font-size:13px;line-height:20px;color:#ececec;left:629px;transform-origin:0 50%;transform:scaleX(0.9657);">144.34</div>
<div class="t" id="t102i" style="top:121.30px;font-size:13px;line-height:20px;color:#ececec;left:629px;transform-origin:0 50%;transform:scaleX(0.9657);">144.21</div>
<div class="t" id="t103i" style="top:103.50px;font-size:13px;line-height:20px;color:#ececec;left:670.2px;transform-origin:0 50%;transform:scaleX(0.9722);">18:37:27</div>
<div class="t" id="t104i" style="top:121.80px;font-size:13px;line-height:20px;color:#ececec;left:670.2px;transform-origin:0 50%;transform:scaleX(0.9722);">17:07:38</div>
<div class="t" id="t105i" style="top:105.70px;font-size:12px;line-height:18px;color:#a0a0a0;left:735.3px;transform-origin:0 50%;transform:scaleX(0.9744);">前終</div>
<div class="t" id="t106i" style="top:124.00px;font-size:12px;line-height:18px;color:#a0a0a0;left:735.3px;transform-origin:0 50%;transform:scaleX(0.9744);">始値</div>
<div class="t" id="t107i" style="top:103.00px;font-size:13px;line-height:20px;color:#ececec;left:773.3px;transform-origin:0 50%;transform:scaleX(0.9430);">144.27</div>
<div class="t" id="t108i" style="top:121.30px;font-size:13px;line-height:20px;color:#ececec;left:773.3px;transform-origin:0 50%;transform:scaleX(0.9430);">144.30</div>
<div class="t" id="t109i" style="top:103.50px;font-size:13px;line-height:20px;color:#ececec;left:824.2px;transform-origin:0 50%;transform:scaleX(0.9944);">11/05</div>
<div class="t" id="t110i" style="top:121.80px;font-size:13px;line-height:20px;color:#ececec;left:814.2px;transform-origin:0 50%;transform:scaleX(0.9603);">15:30:01</div>
<div class="t" id="t111i" style="top:124.00px;font-size:12px;line-height:18px;color:#a0a0a0;left:879.8px;transform-origin:0 50%;transform:scaleX(0.9718);">出来高</div>
<div class="t" id="t112i" style="top:121.80px;font-size:13px;line-height:20px;color:#ececec;left:926.2px;transform-origin:0 50%;transform:scaleX(0.9586);">3,888</div>
<div class="t" id="t113i" style="top:147.70px;font-size:12px;line-height:18px;color:#f0f0f0;left:243.6px;transform-origin:0 50%;transform:scaleX(0.7798);">ローソク足</div>
<div class="t" id="t114i" style="top:147.70px;font-size:12px;line-height:18px;color:#f0f0f0;left:349.1px;transform-origin:0 50%;transform:scaleX(0.9793);">1分</div>
<div class="t" id="t115i" style="top:147.70px;font-size:12px;line-height:18px;color:#7a7a7a;left:431.3px;transform-origin:0 50%;transform:scaleX(0.9788);">期間指定</div>
<div class="t" style="top:147.40px;font-size:12px;line-height:18px;color:#3f8fe6;left:329.70000000000005px;width:400px;text-align:center;transform-origin:50% 50%;transform:scaleX(0.9097);"><span id="t116i">1日</span></div>
<div class="t" style="top:147.40px;font-size:12px;line-height:18px;color:#ececec;left:379.70000000000005px;width:400px;text-align:center;transform-origin:50% 50%;transform:scaleX(0.9097);"><span id="t117i">2日</span></div>
<div class="t" style="top:147.40px;font-size:12px;line-height:18px;color:#ececec;left:429.70000000000005px;width:400px;text-align:center;transform-origin:50% 50%;transform:scaleX(0.9097);"><span id="t118i">3日</span></div>
<div class="t" style="top:147.40px;font-size:12px;line-height:18px;color:#ececec;left:479.70000000000005px;width:400px;text-align:center;transform-origin:50% 50%;transform:scaleX(0.9097);"><span id="t119i">5日</span></div>
<div class="t" style="top:147.40px;font-size:12px;line-height:18px;color:#ececec;left:529.7px;width:400px;text-align:center;transform-origin:50% 50%;transform:scaleX(0.9070);"><span id="t120i">30本</span></div>
<div class="t" style="top:147.40px;font-size:12px;line-height:18px;color:#ececec;left:579.7px;width:400px;text-align:center;transform-origin:50% 50%;transform:scaleX(0.9070);"><span id="t121i">60本</span></div>
<div class="t" style="top:147.60px;font-size:12px;line-height:18px;color:#ececec;left:703.9px;width:400px;text-align:center;transform-origin:50% 50%;transform:scaleX(0.7581);"><span id="t122i">テクニカル</span></div>
<div class="t" id="t123i" style="top:172.50px;font-size:11px;line-height:16px;color:#f0f0f0;left:243.3px;transform-origin:0 50%;transform:scaleX(0.9773);">単純移動平均</div>
<div class="t" id="t124i" style="top:171.40px;font-size:11px;line-height:16px;color:#e6d860;left:314.3px;transform-origin:0 50%;transform:scaleX(0.9469);">SMA(5)</div>
<div class="t" id="t125i" style="top:171.40px;font-size:11px;line-height:16px;color:#4f8bf0;left:355.6px;transform-origin:0 50%;transform:scaleX(0.9261);">SMA(25)</div>
<div class="t" id="t126i" style="top:171.40px;font-size:11px;line-height:16px;color:#f08aa8;left:402.6px;transform-origin:0 50%;transform:scaleX(0.9307);">SMA(75)</div>
<div class="t" id="t127i" style="top:200.60px;font-size:11px;line-height:16px;color:#de2c5b;left:370.7px;transform-origin:0 50%;">最高値:144.30</div>
<div class="t" id="t128i" style="top:440.40px;font-size:11px;line-height:16px;color:#5ad4cb;left:299.2px;transform-origin:0 50%;transform:scaleX(1.0086);">最安値:144.21</div>
<div class="t" id="t129i" style="top:464.30px;font-size:11px;line-height:16px;color:#f0f0f0;left:244px;transform-origin:0 50%;transform:scaleX(0.9545);">出来高</div>
<div class="t" id="t130i" style="top:182.40px;font-size:12px;line-height:18px;color:#e4e4e4;left:1036.7px;transform-origin:0 50%;transform:scaleX(0.9073);">144.31</div>
<div class="t" id="t131i" style="top:206.40px;font-size:12px;line-height:18px;color:#e4e4e4;left:1036.7px;transform-origin:0 50%;transform:scaleX(0.9073);">144.30</div>
<div class="t" id="t132i" style="top:231.40px;font-size:12px;line-height:18px;color:#111;left:1036.7px;transform-origin:0 50%;transform:scaleX(0.9073);">144.29</div>
<div class="t" id="t133i" style="top:256.40px;font-size:12px;line-height:18px;color:#e4e4e4;left:1036.7px;transform-origin:0 50%;transform:scaleX(0.9073);">144.28</div>
<div class="t" id="t134i" style="top:281.40px;font-size:12px;line-height:18px;color:#e4e4e4;left:1036.7px;transform-origin:0 50%;transform:scaleX(0.9073);">144.27</div>
<div class="t" id="t135i" style="top:305.40px;font-size:12px;line-height:18px;color:#e4e4e4;left:1036.7px;transform-origin:0 50%;transform:scaleX(0.9073);">144.26</div>
<div class="t" id="t136i" style="top:330.40px;font-size:12px;line-height:18px;color:#e4e4e4;left:1036.7px;transform-origin:0 50%;transform:scaleX(0.9073);">144.25</div>
<div class="t" id="t137i" style="top:355.40px;font-size:12px;line-height:18px;color:#e4e4e4;left:1036.7px;transform-origin:0 50%;transform:scaleX(0.9073);">144.24</div>
<div class="t" id="t138i" style="top:379.40px;font-size:12px;line-height:18px;color:#e4e4e4;left:1036.7px;transform-origin:0 50%;transform:scaleX(0.9073);">144.23</div>
<div class="t" id="t139i" style="top:404.40px;font-size:12px;line-height:18px;color:#e4e4e4;left:1036.7px;transform-origin:0 50%;transform:scaleX(0.9073);">144.22</div>
<div class="t" id="t140i" style="top:429.40px;font-size:12px;line-height:18px;color:#e4e4e4;left:1036.7px;transform-origin:0 50%;transform:scaleX(0.9073);">144.21</div>
<div class="t" id="t141i" style="top:574.05px;font-size:12px;line-height:18px;color:#e4e4e4;left:1035.8px;transform-origin:0 50%;transform:scaleX(0.8886);">100</div>
<div class="t" id="t142i" style="top:553.10px;font-size:12px;line-height:18px;color:#e4e4e4;left:1035.8px;transform-origin:0 50%;transform:scaleX(0.8886);">200</div>
<div class="t" id="t143i" style="top:532.15px;font-size:12px;line-height:18px;color:#e4e4e4;left:1035.8px;transform-origin:0 50%;transform:scaleX(0.8886);">300</div>
<div class="t" id="t144i" style="top:511.20px;font-size:12px;line-height:18px;color:#e4e4e4;left:1035.8px;transform-origin:0 50%;transform:scaleX(0.8886);">400</div>
<div class="t" id="t145i" style="top:490.25px;font-size:12px;line-height:18px;color:#e4e4e4;left:1035.8px;transform-origin:0 50%;transform:scaleX(0.8886);">500</div>
<div class="t" id="t146i" style="top:469.30px;font-size:12px;line-height:18px;color:#e4e4e4;left:1035.8px;transform-origin:0 50%;transform:scaleX(0.8886);">600</div>
<div class="t" id="t147i" style="top:605.00px;font-size:12px;line-height:18px;color:#f4f4f4;font-weight:700;font-family:'Liberation Serif','DejaVu Serif',serif;left:244px;transform-origin:0 50%;transform:scaleX(1.2485);">11/05</div>
<div class="t" id="t148i" style="top:606.00px;font-size:11px;line-height:16px;color:#e4e4e4;left:331px;transform-origin:0 50%;transform:scaleX(0.9662);">15:00</div>
<div class="t" id="t149i" style="top:606.00px;font-size:11px;line-height:16px;color:#e4e4e4;left:590px;transform-origin:0 50%;transform:scaleX(0.9589);">16:00</div>
<div class="t" id="t150i" style="top:606.00px;font-size:11px;line-height:16px;color:#e4e4e4;left:826px;transform-origin:0 50%;transform:scaleX(0.9625);">16:30</div>
<div class="t" style="top:34.90px;font-size:16px;line-height:24px;color:#f4f4f4;font-weight:700;left:-16px;width:400px;text-align:center;transform-origin:50% 50%;transform:scaleX(1.2575);"><span id="t151i">T</span></div>
<div class="t" style="top:32.30px;font-size:19.5px;line-height:29px;color:#e0e0e0;left:4.400000000000006px;width:400px;text-align:center;transform-origin:50% 50%;transform:scaleX(0.6630);"><span id="t152i">?</span></div>
<div class="t" style="top:33.00px;font-size:16px;line-height:24px;color:#f4f4f4;font-weight:700;left:877px;width:400px;text-align:center;transform-origin:50% 50%;transform:scaleX(1.2575);"><span id="t153i">T</span></div>
<div class="t" style="top:144.10px;font-size:14px;line-height:21px;color:#e6e6e6;left:789px;width:400px;text-align:center;transform-origin:50% 50%;transform:scaleX(0.9286);"><span id="t154i">出</span></div>
</div></body></html>
